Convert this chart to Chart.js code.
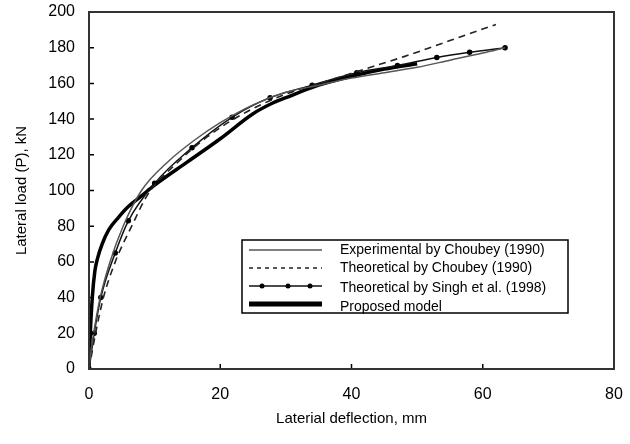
<!DOCTYPE html>
<html>
<head>
<meta charset="utf-8">
<script src="https://cdn.jsdelivr.net/npm/chart.js@4/dist/chart.umd.min.js"></script>
<style>
    html, body { margin: 0; padding: 0; background: #fff; }
    #wrap { width: 630px; height: 444px; }
</style>
</head>
<body>
<div id="wrap"><canvas id="myChart" width="630" height="444"></canvas></div>
<script>
// deflection (mm) / load (kN)
const expX = [0, 0.3, 0.7, 1.7, 3.2, 5.2, 8, 12, 16, 20, 25, 30, 35, 40, 45, 50, 55, 60, 63.4];
const expY = [0, 10, 20, 40, 60, 80, 100, 116, 128, 138, 148, 155, 159, 163, 166, 169, 173, 177, 180];

const choubeyX = [0, 1, 2.2, 4, 6.5, 9, 13, 18, 24, 30, 36, 42, 48, 55, 62];
const choubeyY = [0, 20, 40, 60, 80, 98, 114, 130, 144, 154, 161, 168, 175, 184, 193];

const singhX = [0, 0.8, 1.8, 4, 6, 10, 15.7, 21.8, 27.6, 34, 40.8, 47, 53, 58, 63.4];
const singhY = [0, 20, 40, 65, 83, 104, 124, 141, 152, 159, 166, 170, 174.5, 177.4, 180];

const proposedX = [0, 0.2, 0.5, 0.9, 1.3, 2, 3, 4.5, 6, 8, 10, 15, 20, 25, 28, 30, 35, 40, 45, 50];
const proposedY = [0, 20, 40, 55, 62, 70, 78, 85, 91, 97, 103, 116, 129, 143, 149, 152, 159, 164, 168, 171];

const seriesNames = [
    "Experimental by Choubey (1990)",
    "Theoretical by Choubey (1990)",
    "Theoretical by Singh et al. (1998)",
    "Proposed model"
];

const xTicks = [0, 20, 40, 60, 80];
const yTicks = [0, 20, 40, 60, 80, 100, 120, 140, 160, 180, 200];

function pts(xs, ys) {
    return xs.map(function (x, i) { return { x: x, y: ys[i] }; });
}

const fontFamily = "'Liberation Sans', Arial, sans-serif";

// box around plot + inward tick marks
const framePlugin = {
    id: "frame",
    afterDraw: function (c) {
        const ctx = c.ctx;
        const a = c.chartArea;
        const xs = c.scales.x, ys = c.scales.y;
        ctx.save();
        ctx.strokeStyle = "#000";
        ctx.lineWidth = 1.5;
        ctx.beginPath();
        xTicks.forEach(function (v) {
            const px = xs.getPixelForValue(v);
            ctx.moveTo(px, a.bottom);
            ctx.lineTo(px, a.bottom - 5);
        });
        yTicks.forEach(function (v) {
            const py = ys.getPixelForValue(v);
            ctx.moveTo(a.left, py);
            ctx.lineTo(a.left + 5, py);
        });
        ctx.stroke();
        ctx.strokeStyle = "#333";
        ctx.lineWidth = 2;
        ctx.strokeRect(a.left, a.top, a.right - a.left, a.bottom - a.top);
        ctx.restore();
    }
};

// legend box inside the plot, styled like the original
const legendPlugin = {
    id: "boxLegend",
    afterDraw: function (c) {
        const ctx = c.ctx;
        const bx = 242, by = 240, bw = 326, bh = 73;
        const lineRows = [250, 268, 286, 304];
        const textRows = [250, 268, 288, 307];
        ctx.save();
        ctx.fillStyle = "#fff";
        ctx.fillRect(bx, by, bw, bh);
        ctx.font = "14px " + fontFamily;
        ctx.textBaseline = "middle";
        c.data.datasets.forEach(function (ds, i) {
            const y = lineRows[i];
            ctx.strokeStyle = ds.borderColor;
            ctx.lineWidth = i === 3 ? 5 : ds.borderWidth;
            ctx.setLineDash(ds.borderDash ? [4, 4] : []);
            ctx.beginPath();
            ctx.moveTo(249, y);
            ctx.lineTo(322, y);
            ctx.stroke();
            ctx.setLineDash([]);
            if (ds.pointRadius > 0) {
                ctx.fillStyle = "#000";
                [262, 288, 310].forEach(function (px) {
                    ctx.beginPath();
                    ctx.arc(px, y, 2.5, 0, Math.PI * 2);
                    ctx.fill();
                });
            }
            ctx.fillStyle = "#000";
            ctx.fillText(ds.label, 340, textRows[i]);
        });
        ctx.strokeStyle = "#000";
        ctx.lineWidth = 1.5;
        ctx.strokeRect(bx, by, bw, bh);
        ctx.restore();
    }
};

const chart = new Chart(document.getElementById("myChart"), {
    type: "scatter",
    data: {
        datasets: [
            {
                label: seriesNames[0],
                data: pts(expX, expY),
                showLine: true,
                borderColor: "#555",
                borderWidth: 1.5,
                pointRadius: 0,
                cubicInterpolationMode: "monotone"
            },
            {
                label: seriesNames[1],
                data: pts(choubeyX, choubeyY),
                showLine: true,
                borderColor: "#222",
                borderWidth: 1.6,
                borderDash: [7, 5],
                pointRadius: 0,
                cubicInterpolationMode: "monotone"
            },
            {
                label: seriesNames[2],
                data: pts(singhX, singhY),
                showLine: true,
                borderColor: "#111",
                borderWidth: 1.5,
                pointRadius: 2,
                pointBackgroundColor: "#000",
                pointBorderColor: "#000",
                cubicInterpolationMode: "monotone"
            },
            {
                label: seriesNames[3],
                data: pts(proposedX, proposedY),
                showLine: true,
                borderColor: "#000",
                borderWidth: 3.5,
                pointRadius: 0,
                cubicInterpolationMode: "monotone"
            }
        ]
    },
    options: {
        responsive: false,
        animation: false,
        layout: { padding: { top: 12, right: 16, left: 0, bottom: 0 } },
        plugins: {
            legend: { display: false },
            tooltip: { enabled: false }
        },
        scales: {
            x: {
                type: "linear",
                min: 0,
                max: 80,
                afterBuildTicks: function (s) { s.ticks = xTicks.map(function (v) { return { value: v }; }); },
                afterFit: function (s) { s.height = 75; s.paddingLeft = 0; s.paddingRight = 0; },
                grid: { display: false, drawTicks: false },
                border: { display: false },
                ticks: {
                    padding: 16,
                    color: "#000",
                    font: { family: fontFamily, size: 16 },
                    maxRotation: 0
                },
                title: {
                    display: true,
                    text: "Laterial deflection, mm",
                    color: "#000",
                    font: { family: fontFamily, size: 15 },
                    padding: { top: 0, bottom: 16 }
                }
            },
            y: {
                type: "linear",
                min: 0,
                max: 200,
                afterBuildTicks: function (s) { s.ticks = yTicks.map(function (v) { return { value: v }; }); },
                afterFit: function (s) { s.width = 89; s.paddingTop = 0; s.paddingBottom = 0; },
                grid: { display: false, drawTicks: false },
                border: { display: false },
                ticks: {
                    padding: 14,
                    color: "#000",
                    font: { family: fontFamily, size: 16 }
                },
                title: {
                    display: true,
                    text: "Lateral load (P), kN",
                    color: "#000",
                    font: { family: fontFamily, size: 15 },
                    padding: { top: 13, bottom: 0 }
                }
            }
        }
    },
    plugins: [framePlugin, legendPlugin]
});
</script>
</body>
</html>
